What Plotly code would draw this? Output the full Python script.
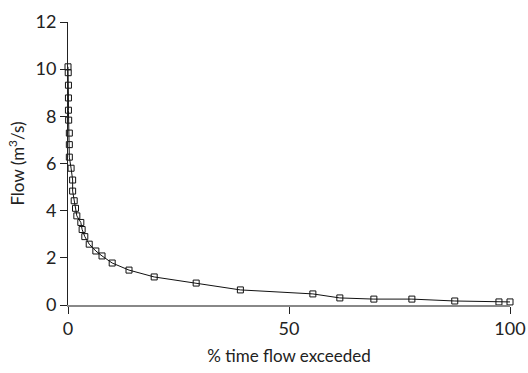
import plotly.graph_objects as go

pct_exceeded = [0, 0.05, 0.1, 0.1, 0.1, 0.15, 0.3, 0.3, 0.3, 0.7, 1.05, 1.05, 1.4, 1.7, 2.0,
                2.9, 3.2, 3.8, 4.8, 6.3, 7.7, 10, 13.8, 19.5, 29, 39, 55.4, 61.5, 69.2, 77.8,
                87.5, 97.5, 100]
flow = [10.1, 9.85, 9.32, 8.78, 8.26, 7.84, 7.29, 6.8, 6.27, 5.8, 5.3, 4.83, 4.42, 4.1, 3.78,
        3.5, 3.2, 2.9, 2.58, 2.29, 2.08, 1.78, 1.48, 1.19, 0.93, 0.64, 0.47, 0.3, 0.25, 0.25,
        0.17, 0.13, 0.13]

x_ticks = [0, 50, 100]
y_ticks = [0, 2, 4, 6, 8, 10, 12]

fig = go.Figure()
fig.add_trace(go.Scatter(
    x=pct_exceeded, y=flow, mode="lines+markers",
    line=dict(color="#111111", width=1),
    marker=dict(symbol="square-open", size=6, color="#111111", line=dict(width=1)),
    cliponaxis=False, showlegend=False,
))

font = dict(family="Lato, 'DejaVu Sans', sans-serif", size=18, color="#222222")
fig.update_layout(
    width=528, height=373,
    margin=dict(l=68, r=18, t=22, b=68),
    paper_bgcolor="white", plot_bgcolor="white",
    font=font,
    xaxis=dict(range=[0, 100], tickvals=x_ticks, ticks="outside", ticklen=7,
               tickcolor="#222222", showline=True, linecolor="#888888", linewidth=1.5,
               showgrid=False, zeroline=False, automargin=False, tickfont=dict(size=18),
               title=dict(text="% time flow exceeded", font=dict(size=17), standoff=12)),
    yaxis=dict(range=[0, 12], tickvals=y_ticks, ticks="outside", ticklen=7,
               tickcolor="#222222", showline=True, linecolor="#222222", linewidth=1,
               showgrid=False, zeroline=False, automargin=False, tickfont=dict(size=18),
               title=dict(text="Flow (m<sup>3</sup>/s)", font=dict(size=17), standoff=6)),
)
fig.write_html("out.html", config={"displayModeBar": False},
               post_script="document.body.style.margin='0';")
